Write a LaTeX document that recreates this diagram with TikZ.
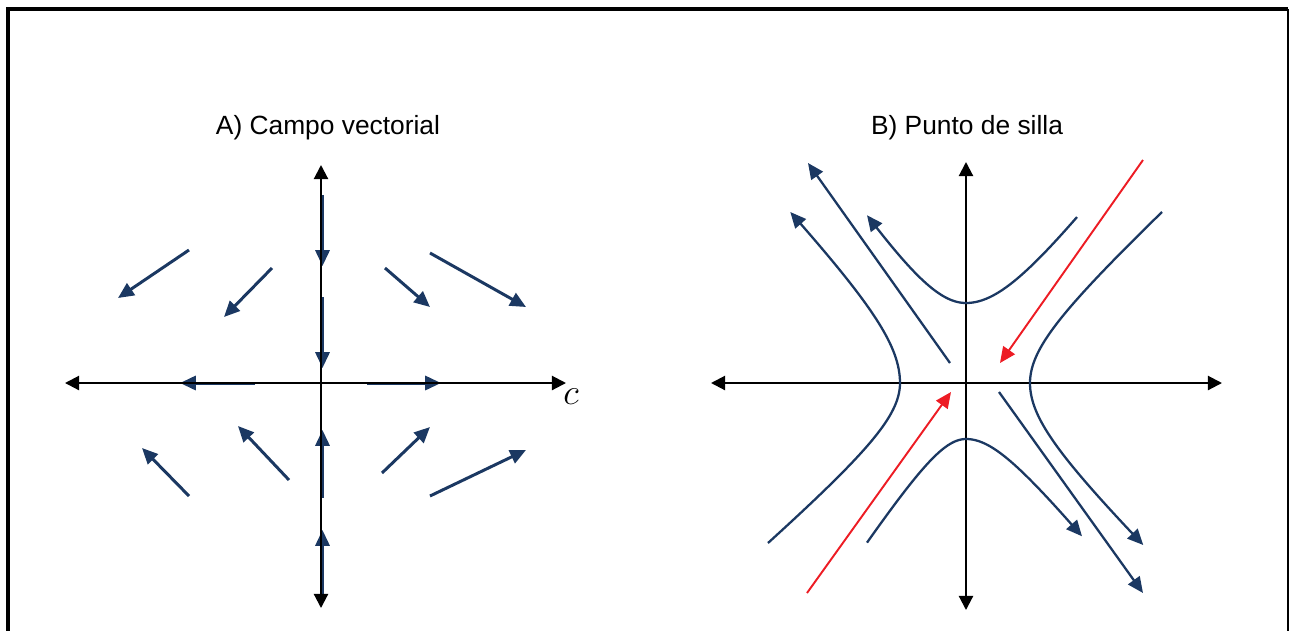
\documentclass[tikz,border=0pt]{standalone}
\usepackage{fontspec}
\setmainfont{Liberation Sans}
\usetikzlibrary{arrows.meta}
\definecolor{navy}{RGB}{27,56,98}
\definecolor{sred}{RGB}{237,28,36}
\tikzset{
  axis/.style={black, line width=1.2pt, {Triangle[length=8pt,width=8pt]}-{Triangle[length=8pt,width=8pt]}},
  vec/.style={navy, line width=1.7pt, -{Triangle[length=9pt,width=8pt]}},
  flowarr/.style={navy, line width=1.3pt, -{Triangle[length=9pt,width=8pt]}},
  redarr/.style={sred, line width=1.1pt, -{Triangle[length=9pt,width=8pt]}},
  title/.style={font=\fontsize{15pt}{18pt}\selectfont, inner sep=0pt},
  hyp/.style={samples=50, variable=\u}
}
\begin{document}
\begin{tikzpicture}[x=0.02cm, y=-0.02cm]
\useasboundingbox (0,0) rectangle (1289,630);
% frame
\draw[line width=2.3pt] (8,640) -- (8,9) -- (1288,9);
\draw[line width=0.9pt] (1288,9) -- (1288,640);

% ---------- Panel A ----------
\node[title] (ta) at (328,128) {A) Campo vectorial};
\coordinate (axL) at (65,383); \coordinate (axR) at (566,383);
\coordinate (ayT) at (321,165); \coordinate (ayB) at (321,608);
% blue arrows on axes (under the black axes)
\draw[vec] (322.5,195) -- (322.5,266);
\draw[vec] (322.5,297) -- (322.5,368);
\draw[vec] (322.5,498) -- (322.5,430);
\draw[vec] (322.5,600) -- (322.5,530);
\draw[vec] (255,383) -- (180,383);
\draw[vec] (367,383) -- (441,383);
\draw[axis] (axL) -- (axR);
\draw[axis] (ayB) -- (ayT);
\node[inner sep=0pt] (lc) at (571,397) {\fontsize{22pt}{26pt}\selectfont$c$};
% diagonal vectors
\draw[vec] (189,250) -- (118,298);
\draw[vec] (272,268) -- (224,317);
\draw[vec] (385,268) -- (430,307);
\draw[vec] (430,253) -- (526,307);
\draw[vec] (189,496) -- (142,448);
\draw[vec] (289,480) -- (238,426);
\draw[vec] (382,473) -- (430,427);
\draw[vec] (430,496) -- (526,450);

% ---------- Panel B ----------
\node[title] (tb) at (967,128) {B) Punto de silla};
\coordinate (bxL) at (711,383); \coordinate (bxR) at (1222,383);
\coordinate (byT) at (966,162); \coordinate (byB) at (966,610);
\draw[axis] (bxL) -- (bxR);
\draw[axis] (byB) -- (byT);
% upper hyperbola (arrow at left end)
\draw[flowarr] plot[hyp, domain=11.1:0] ({966+10*\u}, {383-10*sqrt(64+(1.31*\u)^2)})
  -- plot[hyp, domain=0:-9.9] ({966+10*\u}, {383-10*sqrt(64+(1.49*\u)^2)});
% lower hyperbola (arrow at right end)
\draw[flowarr] plot[hyp, domain=-9.9:0] ({966+10*\u}, {383+10*sqrt(31.36+(1.51*\u)^2)})
  -- plot[hyp, domain=0:11.6] ({966+10*\u}, {383+10*sqrt(31.36+(1.23*\u)^2)});
% left hyperbola (arrow at top)
\draw[flowarr] plot[hyp, domain=-16:0] ({966-10*sqrt(43.56+(\u/0.857)^2)}, {383-10*\u})
  -- plot[hyp, domain=0:17.1] ({966-10*sqrt(43.56+(\u/1.05)^2)}, {383-10*\u});
% right hyperbola (arrow at bottom)
\draw[flowarr] plot[hyp, domain=17.1:0] ({966+10*sqrt(40.96+(\u/0.923)^2)}, {383-10*\u})
  -- plot[hyp, domain=0:-16.2] ({966+10*sqrt(40.96+(\u/0.98)^2)}, {383-10*\u});
% straight diagonals
\coordinate (d1s) at (950,363); \coordinate (d1e) at (808,163);
\coordinate (d2s) at (999,392); \coordinate (d2e) at (1143,593);
\draw[flowarr] (d1s) -- (d1e);
\draw[flowarr] (d2s) -- (d2e);
% red separatrices
\coordinate (r1s) at (1143,160); \coordinate (r1e) at (1000,363);
\coordinate (r2s) at (807,593); \coordinate (r2e) at (951,392);
\draw[redarr] (r1s) -- (r1e);
\draw[redarr] (r2s) -- (r2e);
\end{tikzpicture}
\end{document}
